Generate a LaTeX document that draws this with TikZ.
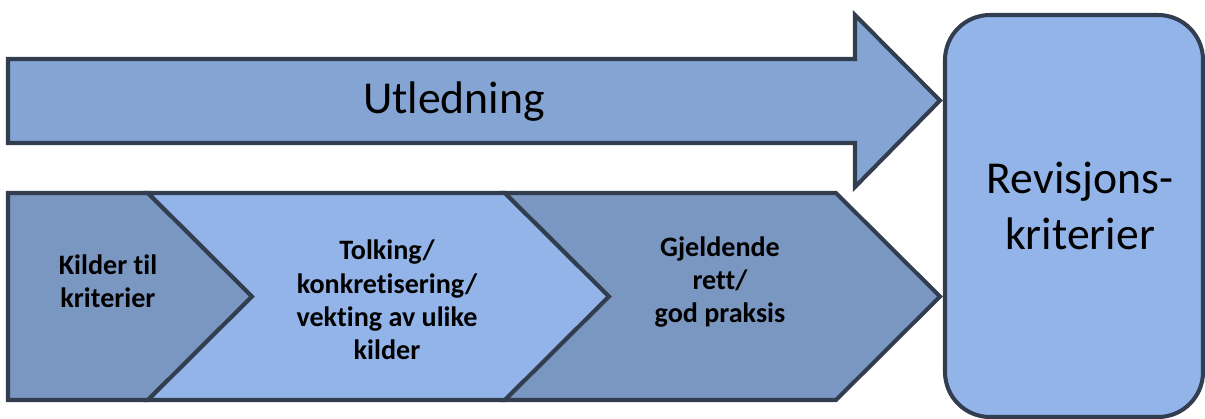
\documentclass[tikz,border=0pt]{standalone}
\usepackage{fontspec}
\setmainfont[Ligatures=NoCommon]{Carlito}
\definecolor{rand}{HTML}{323D50}
\definecolor{pilblaa}{HTML}{84A5D4}
\definecolor{moerk}{HTML}{7A97C2}
\definecolor{lys}{HTML}{92B4E8}
\begin{document}
\begin{tikzpicture}[line join=miter,
  form/.style={draw=rand, line width=2.3pt},
  stor/.style={font=\fontsize{26}{32}\selectfont, align=center},
  liten/.style={font=\fontsize{16}{19}\selectfont\bfseries, align=center}]
\useasboundingbox (0,0) rectangle (24.1,8.36);

% stor pil oppe
\draw[form, fill=pilblaa](.16,7.18)--(17.1,7.18)--(17.1,8.06)--(18.8,6.35)
  --(17.1,4.62)--(17.1,5.5)--(.16,5.5)--cycle;
\node[stor] (utl) at (9.08,6.32) {Utledning};

% tre steg nede
\draw[form, fill=moerk](.16,4.5)--(2.96,4.5)--(5.04,2.43)--(2.96,.36)--(.16,.36)--cycle;
\draw[form, fill=lys](2.96,4.5)--(10.1,4.5)--(12.18,2.43)--(10.1,.36)--(2.96,.36)--(5.04,2.43)--cycle;
\draw[form, fill=moerk](10.1,4.5)--(16.72,4.5)--(18.8,2.43)--(16.72,.36)--(10.1,.36)--(12.18,2.43)--cycle;
\node[liten] (kilder) at (2.16,2.74) {Kilder til\\kriterier};
\node[liten] (tolking) at (7.74,2.36) {Tolking/\\konkretisering/\\vekting av ulike\\kilder};
\node[liten] (rett) at (14.4,2.72) {Gjeldende\\rett/\\god praksis};

% boks til hoyre
\draw[form, fill=lys, rounded corners=.9cm](18.9,.02) rectangle (24.06,8.06);
\node[stor] (krit) at (21.6,4.24) {Revisjons-\\kriterier};
\end{tikzpicture}
\end{document}
